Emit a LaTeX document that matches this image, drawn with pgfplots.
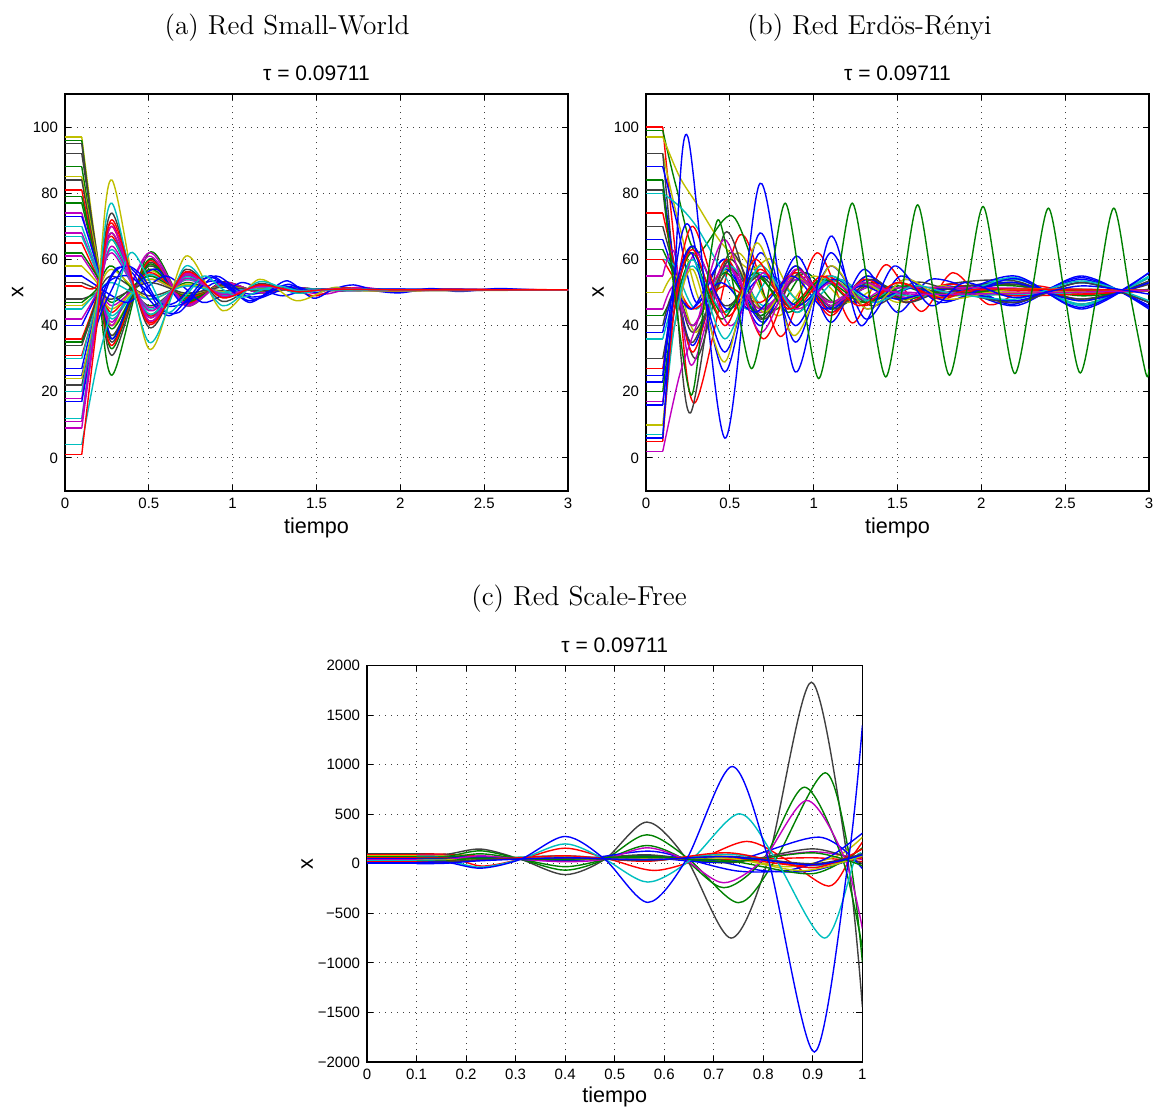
\documentclass[border=0pt]{standalone}
\usepackage{fontspec}
\setsansfont{Liberation Sans}
\usepackage{pgfplots}
\pgfplotsset{compat=1.18}
\definecolor{mb}{rgb}{0,0,1}
\definecolor{mg}{rgb}{0,0.5,0}
\definecolor{mr}{rgb}{1,0,0}
\definecolor{mc}{rgb}{0,0.75,0.75}
\definecolor{mm}{rgb}{0.75,0,0.75}
\definecolor{my}{rgb}{0.75,0.75,0}
\definecolor{mk}{rgb}{0.25,0.25,0.25}
\newcommand\tr[3]{%
  \addplot[#1,line width=0.7pt] coordinates {(0,#2) (0.1,#2)};
  \addplot[#1,line width=0.7pt,smooth] coordinates {(0.1,#2) #3};
}
\pgfplotsset{
  mlab/.style={
    scale only axis,
    axis line style={line width=0.8pt},
    tick style={line width=0.5pt, black},
    major tick length=3pt,
    tick align=inside,
    grid=major,
    major grid style={line width=0.5pt, black!75, dash pattern=on 0.5pt off 2.5pt},
    tick label style={font=\fontsize{7.5}{8}\sffamily},
    /pgf/number format/assume math mode=true,
    label style={font=\fontsize{10.8}{12}\sffamily},
    title style={font=\fontsize{10.5}{12}\sffamily, anchor=center},
    xlabel style={anchor=center},
    ylabel style={anchor=center},
    title={τ = 0.09711}, xlabel={tiempo}, ylabel={x},
  },
  smallworld/.style={
    mlab, width=251.5pt, height=198.5pt,
    xmin=0, xmax=3, ymin=-10, ymax=110,
    xtick={0,0.5,1,1.5,2,2.5,3},
    ytick={0,20,40,60,80,100},
    title style={at={(axis description cs:0.5,1.023)}},
    xlabel style={at={(axis description cs:0.5,-0.093)}},
    ylabel style={at={(axis description cs:-0.094,0.5)}},
  }
}
\begin{document}
\begin{tikzpicture}
% ---------------- (a) ----------------
\begin{axis}[smallworld, at={(32.5pt,-245.5pt)}, anchor=south west]
\tr{my}{97}{(0.19,62) (0.28,37) (0.5,58) (0.72,47.5) (0.94,52.8) (1.16,50.1) (1.38,51.2) (1.6,50.6) (2,50.8) (3,50.8)}
\tr{mg}{96}{(0.19,58) (0.28,25) (0.5,62) (0.72,46) (0.94,53) (1.16,50) (1.38,51.3) (1.6,50.6) (2,50.8) (3,50.8)}
\tr{mk}{95}{(0.19,60) (0.28,31) (0.5,60) (0.72,47) (0.94,52.8) (1.16,50.2) (1.38,51.2) (1.6,50.7) (2,50.8) (3,50.8)}
\tr{mk}{92}{(0.19,62) (0.28,35) (0.5,59) (0.72,47) (0.94,53) (1.16,50) (1.38,51.3) (1.6,50.7) (2,50.8) (3,50.8)}
\tr{mg}{88}{(0.19,60) (0.28,33) (0.5,60) (0.72,46.5) (0.94,53.2) (1.16,49.9) (1.38,51.4) (1.6,50.6) (2,50.8) (3,50.8)}
\tr{my}{85}{(0.19,61) (0.28,40) (0.5,56.5) (0.72,48.3) (0.94,52.4) (1.16,50.3) (1.38,51.2) (1.6,50.7) (2,50.8) (3,50.8)}
\tr{mk}{84}{(0.19,59) (0.28,37) (0.5,58) (0.72,47.5) (0.94,52.7) (1.16,50.1) (1.38,51.2) (1.6,50.7) (2,50.8) (3,50.8)}
\tr{mr}{81}{(0.19,58) (0.28,34) (0.5,59.5) (0.72,46.8) (0.94,53.1) (1.16,50) (1.38,51.3) (1.6,50.6) (2,50.8) (3,50.8)}
\tr{mg}{79}{(0.19,58) (0.28,36) (0.5,58.5) (0.72,47.3) (0.94,52.9) (1.16,50.1) (1.38,51.3) (1.6,50.7) (2,50.8) (3,50.8)}
\tr{mg}{77}{(0.19,58) (0.28,39) (0.5,57) (0.72,48) (0.94,52.5) (1.16,50.3) (1.38,51.2) (1.6,50.7) (2,50.8) (3,50.8)}
\tr{mm}{74}{(0.19,58) (0.28,41) (0.5,61) (0.72,46) (0.94,53) (1.16,50) (1.38,51.3) (1.6,50.7) (2,50.8) (3,50.8)}
\tr{mb}{73}{(0.19,58) (0.28,36) (0.42,52) (0.55,57) (0.7,47) (0.9,53) (1.1,49.5) (1.3,51.5) (1.6,50.6) (3,50.8)}
\tr{mc}{70}{(0.19,57) (0.28,42) (0.5,55.5) (0.72,48.8) (0.94,52) (1.16,50.5) (1.38,51) (1.6,50.7) (2,50.8) (3,50.8)}
\tr{mm}{68}{(0.19,56) (0.28,40) (0.5,62) (0.72,46.5) (0.94,53) (1.16,50) (1.38,51.3) (1.6,50.7) (2,50.8) (3,50.8)}
\tr{mc}{67}{(0.19,56) (0.28,43) (0.5,55) (0.72,49) (0.94,52) (1.16,50.5) (1.38,51) (1.6,50.7) (2,50.8) (3,50.8)}
\tr{mr}{65}{(0.19,55) (0.28,44) (0.5,56) (0.72,48.5) (0.94,52.2) (1.16,50.4) (1.38,51.1) (1.6,50.7) (2,50.8) (3,50.8)}
\tr{mg}{62}{(0.19,55) (0.28,47) (0.5,55) (0.72,49) (0.94,52) (1.16,50.5) (1.38,51) (2,50.8) (3,50.8)}
\tr{mm}{61}{(0.19,54) (0.28,46) (0.5,54) (0.72,49.5) (0.94,51.8) (1.16,50.6) (1.38,51) (1.6,50.7) (2,50.8) (3,50.8)}
\tr{my}{58}{(0.19,53) (0.28,45) (0.5,54) (0.72,49.5) (0.94,51.8) (1.16,50.6) (1.38,51) (1.6,50.7) (2,50.8) (3,50.8)}
\tr{mb}{55}{(0.19,52) (0.28,49) (0.38,47) (0.5,52) (0.6,55) (0.7,52) (0.82,47) (0.93,49) (1.05,53) (1.17,51) (1.3,49) (1.45,51) (1.6,50.8) (3,50.8)}
\tr{mk}{53}{(0.19,51) (0.28,48) (0.5,53) (0.72,49.8) (0.94,51.6) (1.16,50.6) (1.38,51) (1.6,50.7) (2,50.8) (3,50.8)}
\tr{mr}{52}{(0.19,52) (0.28,67) (0.5,43) (0.72,55) (0.94,49) (1.16,52) (1.38,50.5) (1.6,51) (2,50.8) (3,50.8)}
\tr{mk}{48}{(0.19,50) (0.28,55) (0.5,49) (0.72,52) (0.94,50.5) (1.16,51.3) (1.38,50.8) (3,50.8)}
\tr{mg}{47}{(0.19,51) (0.28,58) (0.5,46) (0.72,53) (0.94,49.5) (1.16,51.5) (1.6,50.8) (3,50.8)}
\tr{my}{46}{(0.19,50) (0.28,57) (0.5,48) (0.72,52.5) (0.94,50.2) (1.16,51.4) (1.38,50.7) (1.6,50.8) (3,50.8)}
\tr{mc}{45}{(0.19,50) (0.28,53) (0.5,48) (0.72,52) (0.94,50) (1.2,51) (3,50.8)}
\tr{mm}{42}{(0.19,50) (0.28,62) (0.5,45.5) (0.72,53.8) (0.94,49.6) (1.16,51.7) (1.38,50.6) (1.55,49.5) (1.75,51.6) (2.0,50.3) (2.3,50.9) (3,50.8)}
\tr{mb}{40}{(0.19,49) (0.28,54) (0.38,55) (0.48,51) (0.6,46) (0.72,47) (0.84,53) (0.95,53) (1.06,49) (1.18,49) (1.3,52) (1.45,50) (1.6,51) (3,50.8)}
\tr{mr}{36}{(0.19,49) (0.28,71) (0.5,41) (0.72,56) (0.94,48.5) (1.16,52.3) (1.38,50.4) (1.5,49) (1.65,51.5) (1.9,50.3) (2.2,51) (3,50.8)}
\tr{mg}{35}{(0.19,48) (0.28,66) (0.5,43.5) (0.72,54.8) (0.94,49.1) (1.16,52) (1.38,50.5) (1.6,51) (2,50.8) (3,50.8)}
\tr{mk}{34}{(0.19,48) (0.28,68) (0.5,42.5) (0.72,55.3) (0.94,48.8) (1.16,52) (1.38,50.5) (1.6,51) (2,50.8) (3,50.8)}
\tr{mr}{31}{(0.19,47) (0.28,70) (0.5,41.5) (0.72,55.8) (0.94,48.6) (1.16,52.2) (1.38,50.4) (1.6,51) (2,50.8) (3,50.8)}
\tr{mc}{30}{(0.19,47) (0.28,63) (0.5,45) (0.72,54) (0.94,49.5) (1.16,51.7) (1.38,50.6) (1.6,50.9) (2,50.8) (3,50.8)}
\tr{mb}{27}{(0.19,45) (0.3,57) (0.4,56) (0.5,48) (0.62,43) (0.73,48) (0.86,55) (0.98,51.5) (1.1,47) (1.22,50.5) (1.33,53.5) (1.48,48.3) (1.6,51) (1.72,52.3) (1.86,50.5) (2.0,49.9) (2.18,51.2) (2.35,50.3) (2.58,51.2) (2.78,50.8) (3,50.8)}
\tr{mb}{25}{(0.19,42) (0.28,55) (0.37,58) (0.47,53) (0.57,45) (0.68,44) (0.8,51) (0.9,55) (1.0,52) (1.12,48) (1.25,50) (1.36,52) (1.5,50) (1.62,51.5) (1.8,50.6) (3,50.8)}
\tr{my}{24}{(0.19,47) (0.28,84) (0.5,33) (0.72,61) (0.94,44.5) (1.16,54) (1.38,47.5) (1.6,51.5) (1.8,50.5) (3,50.8)}
\tr{mk}{22}{(0.19,44) (0.28,74) (0.5,39.5) (0.72,57) (0.94,47.3) (1.16,52.7) (1.38,50) (1.6,51.2) (2,50.8) (3,50.8)}
\tr{mc}{20}{(0.19,45) (0.28,66) (0.5,43.5) (0.72,54.8) (0.94,49.1) (1.16,52) (1.38,50.5) (1.6,51) (2,50.8) (3,50.8)}
\tr{mm}{18}{(0.19,44) (0.28,64) (0.5,44.5) (0.72,54.3) (0.94,49.4) (1.16,51.8) (1.38,50.6) (1.6,50.9) (2,50.8) (3,50.8)}
\tr{mb}{17}{(0.19,40) (0.28,51) (0.36,58) (0.46,55) (0.56,47) (0.66,47) (0.78,53) (0.88,54.5) (0.98,51) (1.1,47.5) (1.22,50) (1.33,52.5) (1.45,50.3) (1.6,51) (3,50.8)}
\tr{mc}{12}{(0.19,45) (0.28,77) (0.5,35) (0.72,58) (0.94,46) (1.16,53.3) (1.38,49.8) (1.6,51.2) (2,50.8) (3,50.8)}
\tr{mm}{11}{(0.19,43) (0.28,68) (0.5,42.5) (0.72,55.3) (0.94,48.8) (1.16,52) (1.38,50.5) (1.6,51) (2,50.8) (3,50.8)}
\tr{mm}{9}{(0.19,42) (0.28,70) (0.5,41.5) (0.72,55.8) (0.94,48.6) (1.16,52.2) (1.38,50.4) (1.6,51) (2,50.8) (3,50.8)}
\tr{mc}{4}{(0.19,28) (0.28,45) (0.39,62) (0.5,54) (0.61,44) (0.72,49) (0.83,55) (0.94,51) (1.05,48.5) (1.16,50.5) (1.27,52) (1.4,50.5) (1.6,50.8) (3,50.8)}
\tr{mr}{1}{(0.19,40) (0.28,72) (0.5,40.5) (0.72,56.3) (0.94,48.4) (1.16,52.3) (1.38,50.3) (1.6,51) (2,50.8) (3,50.8)}
\end{axis}
% ---------------- (b) ----------------
\begin{axis}[smallworld, at={(323pt,-245.5pt)}, anchor=south west,
  ylabel style={at={(axis description cs:-0.095,0.5)}}]
\tr{mr}{100}{(0.18,60) (0.29,16.6) (0.56,67.4) (0.8,36.7) (1.02,62) (1.23,40.8) (1.43,58.4) (1.64,44.3) (1.83,56) (2.05,46.3) (2.3,52) (2.6,49.5) (3,50.6)}
\tr{mg}{99}{(0.18,82) (0.3,62) (0.52,73) (0.75,45) (0.95,56) (1.15,46) (1.35,53) (1.6,48.5) (1.85,51.5) (2.2,47) (2.6,53) (3,47)}
\tr{my}{97}{(0.2,85) (0.3,77) (0.45,65) (0.62,57) (0.75,60) (0.9,48) (1.1,54) (1.35,47) (1.5,53) (1.8,49) (2.2,51) (3,50.6)}
\tr{my}{92}{(0.2,70) (0.35,45) (0.55,62) (0.78,43) (1.0,55) (1.2,47) (1.4,52) (1.6,49) (3,50.6)}
\tr{mk}{92}{(0.17,55) (0.265,13.6) (0.47,68) (0.68,42) (0.89,58) (1.1,45) (1.32,55) (1.55,47) (1.8,52.5) (2.2,53.5) (2.6,46.5) (3,54.5)}
\tr{mb}{88}{(0.18,72) (0.3,47) (0.47,60) (0.68,40) (0.89,58) (1.1,44) (1.32,55) (1.55,47) (1.8,52) (2.2,46) (2.6,55) (3,45)}
\tr{mb}{84}{(0.17,58) (0.27,45) (0.47,60) (0.68,43) (0.89,56) (1.1,45) (1.32,54) (1.55,48) (1.8,51.5) (2.2,47) (2.6,54) (3,46)}
\tr{mk}{81}{(0.17,55) (0.3,30) (0.5,62) (0.7,44) (0.9,55) (1.1,46) (1.3,53) (1.5,48) (1.8,51.5) (2.2,52.5) (2.6,48) (3,53)}
\tr{mc}{80}{(0.2,76) (0.3,70) (0.45,57) (0.6,45) (0.75,55) (0.95,46) (1.15,54) (1.35,48) (1.6,52) (1.8,49) (2.2,54.5) (2.6,46) (3,55)}
\tr{mr}{74}{(0.17,58) (0.28,32) (0.48,60) (0.7,36) (0.9,57) (1.1,44) (1.3,52) (1.55,48) (1.8,51) (3,50.6)}
\tr{mk}{70}{(0.17,57) (0.28,38) (0.5,57) (0.7,45) (0.9,54) (1.12,47) (1.35,52) (1.6,49) (2.2,52.5) (2.6,48) (3,52.5)}
\tr{mb}{66}{(0.17,55) (0.28,34) (0.47,57) (0.7,41) (0.9,61) (1.1,41) (1.3,57) (1.5,44) (1.7,54) (2.0,50) (2.2,46.5) (2.6,54.5) (3,45.5)}
\tr{mg}{63}{(0.17,55) (0.28,40) (0.47,56) (0.68,43) (0.9,55) (1.1,46) (1.3,53) (1.55,48) (1.8,51.5) (2.2,52) (2.6,49) (3,51)}
\tr{mc}{60}{(0.17,58) (0.3,45) (0.5,58) (0.7,46) (0.9,54) (1.1,47) (1.3,52.5) (1.6,49) (3,50.6)}
\tr{mr}{60}{(0.17,54) (0.28,45) (0.47,52) (0.68,47) (0.9,56) (1.1,43) (1.3,54) (1.55,47) (1.8,52.5) (2.2,49) (3,50.6)}
\tr{mm}{55}{(0.17,62) (0.27,28) (0.47,58) (0.68,44) (0.9,55) (1.1,47) (1.35,52) (1.6,50) (3,50.6)}
\tr{my}{50}{(0.18,55) (0.3,38) (0.5,60) (0.7,44) (0.88,55) (1.1,47) (1.3,53) (1.5,47) (1.75,52) (2.0,50) (3,50.6)}
\tr{mm}{45}{(0.17,52) (0.28,40) (0.47,58) (0.68,45) (0.9,54) (1.1,47) (1.3,53) (1.55,48.5) (1.8,51) (3,50.6)}
\tr{mg}{43}{(0.17,50) (0.28,62) (0.45,44) (0.65,55) (0.85,46) (1.05,54) (1.25,47) (1.5,52) (1.75,49) (2.2,51) (3,50.6)}
\tr{mk}{40}{(0.17,50) (0.28,35) (0.5,60) (0.7,42) (0.92,56) (1.12,45) (1.35,54) (1.55,47) (1.8,51) (2.2,53) (2.6,47.5) (3,53.5)}
\tr{mb}{38}{(0.17,50) (0.27,45) (0.45,53) (0.65,44) (0.87,55) (1.07,45) (1.28,52) (1.5,48) (1.8,51) (2.2,47.5) (2.6,53) (3,47)}
\tr{mc}{36}{(0.17,48) (0.28,58) (0.47,44) (0.68,56) (0.9,46) (1.1,54) (1.3,47.5) (1.55,52) (1.8,49) (2.2,54) (2.6,46.5) (3,54.5)}
\tr{mk}{30}{(0.17,48) (0.28,64) (0.47,46) (0.68,55) (0.9,44) (1.1,55) (1.35,46) (1.6,53) (1.8,51) (2.2,47) (2.6,53) (3,47)}
\tr{mr}{27}{(0.17,48) (0.28,70) (0.48,43) (0.68,57) (0.88,45) (1.08,55) (1.3,46) (1.5,53) (1.75,48) (2.0,50.5) (3,50.6)}
\tr{mb}{25}{(0.17,55) (0.26,70) (0.47,26) (0.68,68) (0.89,35) (1.1,62) (1.31,42) (1.52,55) (1.75,47) (2.0,51) (2.2,53) (2.6,47.5) (3,53)}
\tr{mb}{23}{(0.17,50) (0.28,64) (0.48,45) (0.7,55) (0.9,46) (1.12,54) (1.35,48) (1.6,51.5) (1.8,49) (2.2,55) (2.6,45) (3,56)}
\tr{mg}{20}{(0.17,45) (0.28,60) (0.45,42) (0.65,56) (0.85,44) (1.05,54) (1.3,47) (1.55,52) (1.8,49.5) (2.2,51) (3,50.5)}
\tr{mm}{17}{(0.17,40) (0.3,62) (0.5,40) (0.7,56) (0.9,45) (1.1,53) (1.3,48) (1.55,51.5) (3,50.6)}
\tr{mb}{16}{(0.17,45) (0.27,62) (0.47,32) (0.68,62) (0.89,40) (1.1,58) (1.32,45) (1.55,54) (1.8,47.5) (2.2,54.2) (2.6,45.5) (3,56)}
\tr{my}{10}{(0.17,40) (0.28,57) (0.47,29) (0.66,65) (0.88,37) (1.1,58) (1.32,45) (1.55,54) (1.8,48) (2.2,51) (3,50.5)}
\tr{mc}{7}{(0.17,40) (0.28,60) (0.47,36) (0.68,58) (0.9,44) (1.1,55) (1.35,47) (1.6,52) (1.8,50) (2.2,48) (2.6,53.5) (3,47.5)}
\tr{mr}{5}{(0.17,45) (0.28,63) (0.47,40) (0.65,60) (0.85,45) (1.05,55) (1.27,46) (1.5,53) (1.75,48.5) (2.0,51) (3,50.6)}
\tr{mm}{2}{(0.2,25) (0.3,40) (0.47,66) (0.68,38) (0.89,57) (1.1,46) (1.3,53) (1.6,49.5) (3,50.6)}
\tr{mb}{6}{(0.17,55) (0.25,97) (0.47,6) (0.68,83) (0.89,26) (1.1,67) (1.28,40) (1.48,58) (1.7,46) (1.9,53) (2.2,48.5) (2.6,52) (3,49.5)}
\tr{mg}{84}{(0.17,50) (0.27,19) (0.35,48) (0.43,72) (0.53,50) (0.63,27) (0.73,50) (0.83,77) (0.93,50) (1.03,24) (1.13,50) (1.23,77) (1.33,50) (1.43,24.5) (1.525,50) (1.62,76.5) (1.715,50) (1.81,25) (1.91,50) (2.01,76) (2.105,50) (2.2,25.5) (2.3,50) (2.4,75.5) (2.495,50) (2.59,25.7) (2.69,50) (2.79,75.5) (2.885,50) (2.98,25.7) (3,27)}
\end{axis}
% ---------------- (c) ----------------
\begin{axis}[mlab, at={(183.5pt,-531pt)}, anchor=south west,
  width=247.7pt, height=198.3pt,
  xmin=0, xmax=1, ymin=-2000, ymax=2000,
  xtick={0,0.1,0.2,0.3,0.4,0.5,0.6,0.7,0.8,0.9,1},
  ytick={-2000,-1500,-1000,-500,0,500,1000,1500,2000},
  yticklabels={−2000,−1500,−1000,−500,0,500,1000,1500,2000},
  title style={at={(axis description cs:0.5,1.02)}},
  xlabel style={at={(axis description cs:0.5,-0.088)}},
  ylabel style={at={(axis description cs:-0.121,0.5)}},
]
\tr{mr}{100}{(0.16,96) (0.23,75) (0.4,40) (0.565,60) (0.73,40) (0.9,60) (1.0,20)}
\tr{mk}{100}{(0.16,95) (0.23,148) (0.31,45) (0.4,-110) (0.48,45) (0.565,420) (0.645,45) (0.735,-750) (0.81,45) (0.897,1831) (0.97,45) (1.0,-1445)}
\tr{mr}{90}{(0.16,85) (0.23,-23) (0.31,45) (0.4,157) (0.49,45) (0.58,-68) (0.67,45) (0.767,225) (0.845,45) (0.932,-226) (0.975,45) (1.0,218)}
\tr{mm}{85}{(0.16,82) (0.23,60) (0.4,55) (0.565,75) (0.73,25) (0.9,120) (1.0,40)}
\tr{my}{80}{(0.16,78) (0.23,60) (0.4,70) (0.565,55) (0.72,75) (0.85,-30) (0.95,80) (1.0,268)}
\tr{mb}{75}{(0.16,72) (0.23,65) (0.4,45) (0.565,80) (0.7,30) (0.8,-70) (0.9,-70) (1.0,80)}
\tr{mg}{70}{(0.16,72) (0.23,130) (0.31,45) (0.4,-65) (0.48,45) (0.565,292) (0.65,45) (0.75,-393) (0.825,45) (0.925,917) (0.975,45) (1.0,-992)}
\tr{mc}{65}{(0.16,62) (0.23,50) (0.4,80) (0.565,30) (0.73,95) (0.9,-20) (1.0,70)}
\tr{mg}{60}{(0.16,60) (0.23,100) (0.31,45) (0.4,-30) (0.48,45) (0.565,184) (0.64,45) (0.72,-242) (0.8,45) (0.883,772) (0.96,45) (1.0,-850)}
\tr{mr}{60}{(0.16,60) (0.23,50) (0.4,55) (0.565,40) (0.73,60) (0.88,-20) (1.0,60)}
\tr{mk}{55}{(0.16,55) (0.23,70) (0.4,35) (0.565,90) (0.73,10) (0.9,150) (1.0,0)}
\tr{mb}{50}{(0.16,52) (0.23,70) (0.4,30) (0.565,127) (0.65,40) (0.75,-75) (0.85,-65) (0.93,60) (1.0,308)}
\tr{mb}{45}{(0.16,48) (0.23,55) (0.4,35) (0.565,60) (0.73,20) (0.913,268) (1.0,-50)}
\tr{mg}{45}{(0.16,46) (0.23,55) (0.4,40) (0.565,65) (0.73,30) (0.9,-100) (1.0,160)}
\tr{mm}{40}{(0.16,42) (0.23,80) (0.31,45) (0.4,20) (0.48,45) (0.565,161) (0.64,45) (0.72,-192) (0.8,45) (0.888,638) (0.965,45) (1.0,-655)}
\tr{my}{35}{(0.16,38) (0.23,45) (0.4,50) (0.565,45) (0.73,55) (0.88,-70) (1.0,80)}
\tr{mc}{30}{(0.16,32) (0.23,-35) (0.31,45) (0.4,200) (0.48,45) (0.567,-185) (0.655,45) (0.752,504) (0.825,45) (0.924,-750) (0.985,45) (1.0,85)}
\tr{mg}{25}{(0.16,28) (0.23,55) (0.4,45) (0.565,75) (0.73,20) (0.9,110) (1.0,-20)}
\tr{mr}{20}{(0.16,22) (0.23,35) (0.4,80) (0.565,25) (0.73,110) (0.9,-40) (1.0,150)}
\tr{mk}{15}{(0.16,18) (0.23,40) (0.4,55) (0.565,35) (0.73,75) (0.9,0) (1.0,100)}
\tr{mb}{10}{(0.16,15) (0.23,-45) (0.31,45) (0.4,275) (0.48,45) (0.567,-390) (0.645,45) (0.737,981) (0.81,45) (0.903,-1899) (0.972,45) (1.0,1394)}
\tr{mb}{0}{(0.16,5) (0.23,30) (0.4,60) (0.565,40) (0.73,70) (0.9,-10) (1.0,90)}
\end{axis}
% captions
\node[font=\fontsize{13.7}{16}\selectfont, anchor=base] at (143.5pt,-17pt) {(a) Red Small-World};
\node[font=\fontsize{13.7}{16}\selectfont, anchor=base] at (434.75pt,-17pt) {(b) Red Erdös-Rényi};
\node[font=\fontsize{13.7}{16}\selectfont, anchor=base] at (289.5pt,-302.5pt) {(c) Red Scale-Free};
\pgfresetboundingbox
\path (0,0) rectangle (579.5pt,-555pt);
\end{tikzpicture}
\end{document}
